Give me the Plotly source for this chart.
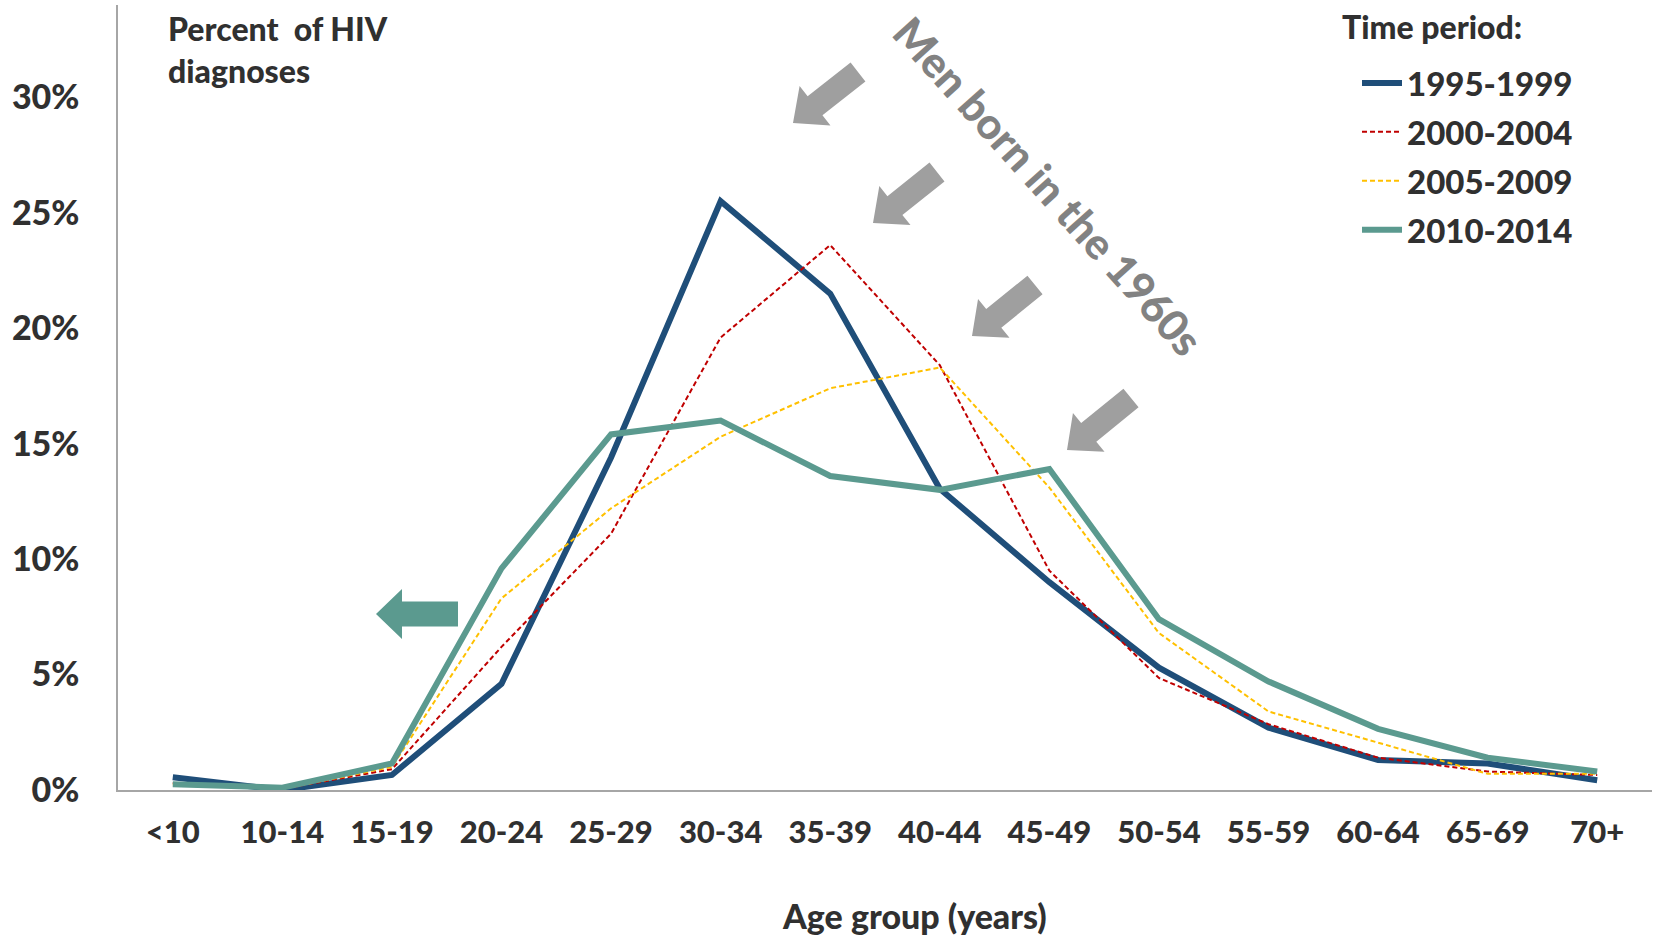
import plotly.graph_objects as go

age_groups = ["<10", "10-14", "15-19", "20-24", "25-29", "30-34", "35-39",
              "40-44", "45-49", "50-54", "55-59", "60-64", "65-69", "70+"]
p1995_1999 = [0.0055, 0.0000, 0.0065, 0.046, 0.144, 0.255, 0.215, 0.1305, 0.090, 0.053, 0.027, 0.013, 0.0115, 0.0042]
p2000_2004 = [0.0030, 0.0005, 0.0090, 0.062, 0.111, 0.196, 0.236, 0.184, 0.095, 0.0485, 0.0285, 0.014, 0.0080, 0.0065]
p2005_2009 = [0.0025, 0.0005, 0.0100, 0.083, 0.122, 0.153, 0.174, 0.183, 0.131, 0.068, 0.034, 0.0205, 0.0070, 0.0070]
p2010_2014 = [0.0025, 0.0010, 0.0115, 0.096, 0.154, 0.160, 0.136, 0.130, 0.139, 0.074, 0.047, 0.0265, 0.0140, 0.0080]
series_names = ["1995-1999", "2000-2004", "2005-2009", "2010-2014"]
y_ticks = [0, 0.05, 0.10, 0.15, 0.20, 0.25, 0.30]

W, H = 1657, 937
L, R, T, B = 118, 1652, 5, 790
FONT = "Lato"
WT = 900
TXT = "#303030"


def P(x, y):
    return (x - L) / (R - L), (B - y) / (B - T)


def arrow_path(tail, tip, sw, hw, hl):
    tx, ty = tail
    hx, hy = tip
    dx, dy = hx - tx, hy - ty
    ln = (dx * dx + dy * dy) ** 0.5
    ux, uy = dx / ln, dy / ln
    nx, ny = -uy, ux
    neck = (hx - ux * hl, hy - uy * hl)
    pts = [
        (tx + nx * sw, ty + ny * sw),
        (neck[0] + nx * sw, neck[1] + ny * sw),
        (neck[0] + nx * hw, neck[1] + ny * hw),
        (hx, hy),
        (neck[0] - nx * hw, neck[1] - ny * hw),
        (neck[0] - nx * sw, neck[1] - ny * sw),
        (tx - nx * sw, ty - ny * sw),
    ]
    s = ""
    for i, (px, py) in enumerate(pts):
        X, Y = P(px, py)
        s += ("M" if i == 0 else "L") + f"{X:.5f},{Y:.5f} "
    return s + "Z"


fig = go.Figure()
styles = [
    dict(color="#1F4E79", width=6),
    dict(color="#C00000", width=2, dash="5px,3px"),
    dict(color="#FFC000", width=2, dash="5px,3px"),
    dict(color="#5B9A8F", width=6),
]
for name, vals, st in zip(series_names, [p1995_1999, p2000_2004, p2005_2009, p2010_2014], styles):
    fig.add_trace(go.Scatter(x=age_groups, y=vals, mode="lines", name=name,
                             legendgroup=name, line=st))

shapes = []
gray_arrows = [((858, 72), (793, 123)), ((937, 172), (873, 223)),
               ((1035, 285), (972, 336)), ((1131, 398), (1067, 450))]
for tail, tip in gray_arrows:
    shapes.append(dict(type="path", xref="paper", yref="paper",
                       path=arrow_path(tail, tip, 12, 25, 28),
                       fillcolor="#9F9F9F", line=dict(width=0), layer="above"))
shapes.append(dict(type="path", xref="paper", yref="paper",
                   path=arrow_path((458, 614), (376, 614), 12.5, 25, 26),
                   fillcolor="#5B9A8F", line=dict(width=0), layer="above"))

ax, ay = P(166, 7)
tx_, ty_ = P(1048, 186)
gx, gy = P(914, 915)
tpx, tpy = P(1340, 27)
annotations = [
    dict(text="Percent\u00a0 of HIV<br>diagnoses", xref="paper", yref="paper",
         x=ax, y=ay, xanchor="left", yanchor="top", align="left", showarrow=False,
         font=dict(family=FONT, size=32, color=TXT, weight=WT)),
    dict(text="Men born in the 1960s", xref="paper", yref="paper",
         x=tx_, y=ty_, xanchor="center", yanchor="middle", textangle=48, showarrow=False,
         font=dict(family=FONT, size=43, color="#828282", weight=WT)),
    dict(text="Age group (years)", xref="paper", yref="paper",
         x=gx, y=gy, xanchor="center", yanchor="middle", showarrow=False,
         font=dict(family=FONT, size=34, color=TXT, weight=WT)),
    dict(text="Time period:", xref="paper", yref="paper",
         x=tpx, y=tpy, xanchor="left", yanchor="middle", showarrow=False,
         font=dict(family=FONT, size=32, color=TXT, weight=WT)),
]

lx, ly = P(1357, 55)
fig.update_layout(
    width=W, height=H,
    margin=dict(l=L, r=W - R, t=T, b=H - B),
    plot_bgcolor="white", paper_bgcolor="white",
    font=dict(family=FONT, color=TXT),
    shapes=shapes, annotations=annotations,
    legend=dict(x=lx, y=ly, xanchor="left", yanchor="top",
                font=dict(family=FONT, size=33, color=TXT, weight=WT),
                bgcolor="rgba(0,0,0,0)", tracegroupgap=3, itemwidth=40),
    xaxis=dict(type="category", range=[-0.5, 13.5], showgrid=False, zeroline=False,
               showline=True, linecolor="#A6A6A6", linewidth=2, ticks="",
               ticklabelstandoff=14,
               tickfont=dict(family=FONT, size=31, color=TXT, weight=WT)),
    yaxis=dict(range=[0, 0.34], tickvals=y_ticks, tickformat=".0%", showgrid=False,
               zeroline=False, showline=True, linecolor="#A6A6A6", linewidth=1.5,
               ticks="", ticklabelstandoff=30,
               tickfont=dict(family=FONT, size=34, color=TXT, weight=WT)),
)

fig.write_html("out.html")
